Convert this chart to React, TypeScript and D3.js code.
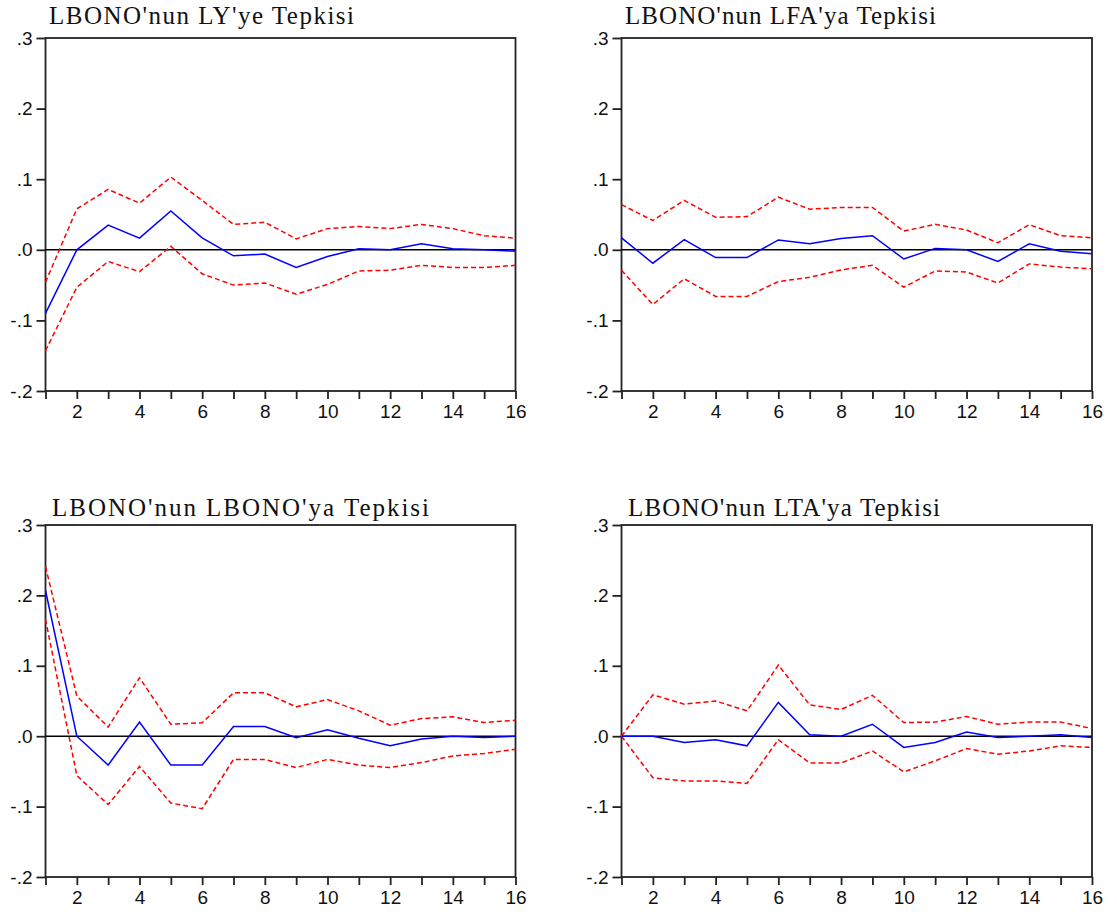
import { useEffect, useRef } from 'react';
import * as d3 from 'd3';

// Impulse response periods
const periods = d3.range(1, 17);
const yTicks = [0.3, 0.2, 0.1, 0.0, -0.1, -0.2];
const yTickLabels = ['.3', '.2', '.1', '.0', '-.1', '-.2'];

// LBONO'nun LY'ye Tepkisi
const lyResponse = [-0.09, 0.0, 0.035, 0.0165, 0.055, 0.017, -0.0085, -0.006, -0.025, -0.0095, 0.0015, 0.0, 0.0085, 0.0015, 0.0, -0.002];
const lyUpper = [-0.046, 0.058, 0.0855, 0.066, 0.103, 0.07, 0.036, 0.039, 0.0155, 0.03, 0.033, 0.03, 0.036, 0.03, 0.02, 0.0165];
const lyLower = [-0.143, -0.053, -0.0165, -0.031, 0.005, -0.034, -0.05, -0.047, -0.063, -0.049, -0.03, -0.029, -0.022, -0.025, -0.025, -0.022];

// LBONO'nun LFA'ya Tepkisi
const lfaResponse = [0.017, -0.019, 0.0145, -0.011, -0.011, 0.014, 0.0085, 0.016, 0.02, -0.013, 0.002, 0.0, -0.0165, 0.0085, -0.002, -0.0055];
const lfaUpper = [0.064, 0.0415, 0.07, 0.046, 0.047, 0.0745, 0.0575, 0.06, 0.06, 0.0265, 0.036, 0.028, 0.01, 0.0355, 0.02, 0.017];
const lfaLower = [-0.029, -0.0775, -0.041, -0.066, -0.066, -0.045, -0.039, -0.0285, -0.022, -0.053, -0.03, -0.0315, -0.047, -0.02, -0.0245, -0.027];

// LBONO'nun LBONO'ya Tepkisi
const lbonoResponse = [0.207, 0.0, -0.041, 0.02, -0.041, -0.041, 0.0137, 0.0137, -0.002, 0.009, -0.003, -0.0137, -0.004, 0.0, -0.002, 0.0];
const lbonoUpper = [0.241, 0.057, 0.013, 0.083, 0.017, 0.019, 0.0616, 0.0616, 0.0417, 0.052, 0.036, 0.0156, 0.025, 0.0275, 0.0194, 0.0227];
const lbonoLower = [0.166, -0.056, -0.097, -0.043, -0.095, -0.103, -0.033, -0.033, -0.0445, -0.033, -0.041, -0.0445, -0.0375, -0.028, -0.0246, -0.0185];

// LBONO'nun LTA'ya Tepkisi
const ltaResponse = [0.0, 0.0, -0.009, -0.005, -0.0137, 0.048, 0.002, 0.0, 0.017, -0.016, -0.009, 0.006, -0.002, 0.0, 0.002, -0.002];
const ltaUpper = [0.0, 0.0588, 0.0455, 0.05, 0.036, 0.101, 0.0445, 0.038, 0.058, 0.0194, 0.02, 0.028, 0.017, 0.02, 0.02, 0.011];
const ltaLower = [0.0, -0.059, -0.0635, -0.0635, -0.067, -0.005, -0.038, -0.038, -0.021, -0.0507, -0.035, -0.0175, -0.0256, -0.021, -0.0137, -0.016];

const titles = [
  "LBONO'nun LY'ye Tepkisi",
  "LBONO'nun LFA'ya Tepkisi",
  "LBONO'nun LBONO'ya Tepkisi",
  "LBONO'nun LTA'ya Tepkisi",
];

export default function App() {
  const svgRef = useRef<SVGSVGElement>(null);

  useEffect(() => {
    if (!svgRef.current) return;
    const svg = d3.select(svgRef.current);
    svg.selectAll('*').remove();

    const panels = [
      { title: titles[0], resp: lyResponse, up: lyUpper, lo: lyLower, left: 45.5, right: 515.5, top: 38, bottom: 391, titleX: 49, titleY: 24, titleW: 305 },
      { title: titles[1], resp: lfaResponse, up: lfaUpper, lo: lfaLower, left: 621.5, right: 1092, top: 38, bottom: 391, titleX: 625, titleY: 24, titleW: 311 },
      { title: titles[2], resp: lbonoResponse, up: lbonoUpper, lo: lbonoLower, left: 45.5, right: 515.5, top: 525, bottom: 877, titleX: 52, titleY: 516, titleW: 377 },
      { title: titles[3], resp: ltaResponse, up: ltaUpper, lo: ltaLower, left: 621.5, right: 1092, top: 525, bottom: 877, titleX: 628, titleY: 516, titleW: 312 },
    ];

    panels.forEach(p => {
      const x = d3.scaleLinear().domain([1, 16]).range([p.left, p.right]);
      const y = d3.scaleLinear().domain([-0.2, 0.3]).range([p.bottom, p.top]);
      const g = svg.append('g');

      // Title
      g.append('text')
        .attr('x', p.titleX)
        .attr('y', p.titleY)
        .attr('textLength', p.titleW)
        .attr('lengthAdjust', 'spacing')
        .style('font-family', '"Liberation Serif", "Times New Roman", serif')
        .style('font-size', '25px')
        .style('fill', '#111')
        .text(p.title);

      // Frame
      g.append('rect')
        .attr('x', p.left)
        .attr('y', p.top)
        .attr('width', p.right - p.left)
        .attr('height', p.bottom - p.top)
        .attr('fill', 'none')
        .attr('stroke', '#222')
        .attr('stroke-width', 1.8);

      // Y axis
      const yAxis = d3.axisLeft(y)
        .tickValues(yTicks)
        .tickSize(9)
        .tickPadding(4)
        .tickFormat((_, i) => yTickLabels[i]);
      const ya = g.append('g')
        .attr('transform', `translate(${p.left},0)`)
        .call(yAxis);
      ya.select('.domain').remove();
      ya.selectAll('line').attr('stroke', '#222').attr('stroke-width', 1.8);
      ya.selectAll('text')
        .style('font-family', '"Liberation Sans", Arial, sans-serif')
        .style('font-size', '19px')
        .style('fill', '#111');

      // X axis
      const xAxis = d3.axisBottom(x)
        .tickValues(periods)
        .tickSize(8)
        .tickPadding(6)
        .tickFormat(d => (+d % 2 === 0 ? String(d) : ''));
      const xa = g.append('g')
        .attr('transform', `translate(0,${p.bottom})`)
        .call(xAxis);
      xa.select('.domain').remove();
      xa.selectAll('line').attr('stroke', '#222').attr('stroke-width', 1.8);
      xa.selectAll('text')
        .style('font-family', '"Liberation Sans", Arial, sans-serif')
        .style('font-size', '19px')
        .style('fill', '#111');

      // Zero line
      g.append('line')
        .attr('x1', p.left)
        .attr('x2', p.right)
        .attr('y1', y(0))
        .attr('y2', y(0))
        .attr('stroke', '#000')
        .attr('stroke-width', 1.5);

      const line = d3.line<number>()
        .x((_, i) => x(periods[i]))
        .y(d => y(d));

      [p.up, p.lo].forEach(band => {
        g.append('path')
          .datum(band)
          .attr('d', line)
          .attr('fill', 'none')
          .attr('stroke', '#ff0000')
          .attr('stroke-width', 1.5)
          .attr('stroke-dasharray', '5,3');
      });

      g.append('path')
        .datum(p.resp)
        .attr('d', line)
        .attr('fill', 'none')
        .attr('stroke', '#0000ff')
        .attr('stroke-width', 1.5);
    });
  }, []);

  return (
    <svg
      ref={svgRef}
      width={1117}
      height={915}
      style={{ position: 'absolute', left: 0, top: 0, background: '#fff' }}
    />
  );
}
